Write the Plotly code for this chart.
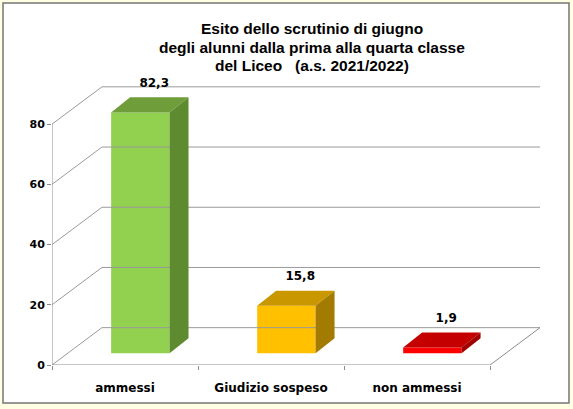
import plotly.graph_objects as go

# Dati del grafico
categorie = ["ammessi", "Giudizio sospeso", "non ammessi"]
percentuali = [82.3, 15.8, 1.9]
etichette = ["82,3", "15,8", "1,9"]
tick_y = [0, 20, 40, 60, 80]
titolo = ["Esito dello scrutinio di giugno",
          "degli alunni dalla prima alla quarta classe",
          "del Liceo   (a.s. 2021/2022)"]

colori_fronte = ["#92D050", "#FFC000", "#FF0000"]
colori_sopra = ["#6F9D3A", "#C99700", "#C40000"]
colori_lato = ["#5E8A30", "#A37B00", "#A00000"]

# Geometria pseudo-3D (in unita' degli assi)
Y_MAX = 80
DX, DY = 0.342, 12.4        # profondita' del pavimento
BDX, BDY = 0.13, 5.0        # profondita' delle barre
BASE = 3.9                  # barre a meta' profondita'
SHIFT = 0.105
LARG = 0.4
GRIGIO = "#9A9A9A"

fig = go.Figure()

# Griglia: pareti laterale e di fondo
for v in tick_y:
    fig.add_trace(go.Scatter(
        x=[-0.5, -0.5 + DX, 2.5 + DX], y=[v, v + DY, v + DY],
        mode="lines", line=dict(color=GRIGIO, width=1),
        hoverinfo="skip", showlegend=False))

# Pavimento e asse verticale frontale
fig.add_trace(go.Scatter(
    x=[-0.5, -0.5, 2.5, 2.5 + DX], y=[Y_MAX, 0, 0, DY],
    mode="lines", line=dict(color="#8C8C8C", width=1),
    hoverinfo="skip", showlegend=False))

# Barre: faccia frontale
xs = [i + SHIFT for i in range(len(categorie))]
altezze = [min(v, Y_MAX) for v in percentuali]
fig.add_trace(go.Bar(
    x=xs, y=altezze, base=BASE, width=LARG,
    marker=dict(color=colori_fronte, line=dict(width=0)),
    hoverinfo="skip", showlegend=False))

# Barre: faccia superiore e laterale
for x, h, cs, cl in zip(xs, altezze, colori_sopra, colori_lato):
    x0, x1 = x - LARG / 2, x + LARG / 2
    y0, y1 = BASE, BASE + h
    fig.add_trace(go.Scatter(
        x=[x0, x1, x1 + BDX, x0 + BDX, x0],
        y=[y1, y1, y1 + BDY, y1 + BDY, y1],
        fill="toself", fillcolor=cs, mode="lines", line=dict(width=0, color=cs),
        hoverinfo="skip", showlegend=False))
    fig.add_trace(go.Scatter(
        x=[x1, x1 + BDX, x1 + BDX, x1, x1],
        y=[y0, y0 + BDY, y1 + BDY, y1, y0],
        fill="toself", fillcolor=cl, mode="lines", line=dict(width=0, color=cl),
        hoverinfo="skip", showlegend=False))

# Etichette dei valori
fig.add_trace(go.Scatter(
    x=[i + 0.2 for i in range(len(categorie))],
    y=[h + 13.5 for h in altezze],
    text=etichette, mode="text", cliponaxis=False,
    textfont=dict(family="DejaVu Sans", size=12, color="black", weight="bold"),
    hoverinfo="skip", showlegend=False))

# Titolo su tre righe
for riga, y in zip(titolo, [1.175, 1.110, 1.047]):
    fig.add_annotation(
        text=riga, xref="paper", yref="paper", x=0.5328, y=y,
        xanchor="center", yanchor="middle", showarrow=False,
        font=dict(family="Liberation Sans", size=15.5, color="black", weight="bold"))

fig.update_layout(
    width=573, height=409,
    margin=dict(l=52, r=33, t=79, b=44, autoexpand=False),
    paper_bgcolor="#FFFFE3",
    plot_bgcolor="rgba(0,0,0,0)",
    shapes=[dict(
        type="rect", xref="paper", yref="paper", layer="below",
        x0=-0.1004, x1=1.0594, y0=-0.1329, y1=1.2657,
        fillcolor="white", line=dict(color="#767676", width=1.5))],
)

fig.update_xaxes(
    range=[-0.5, 2.5 + DX], showgrid=False, zeroline=False, showline=False,
    automargin=False, ticklabelstandoff=14,
    tickmode="array", tickvals=list(range(len(categorie))), ticktext=categorie,
    ticks="", tickfont=dict(family="DejaVu Sans", size=12, color="black", weight="bold"),
    minor=dict(tickmode="array", tickvals=[-0.5, 0.5, 1.5, 2.5],
               ticks="outside", ticklen=4, tickcolor="#8C8C8C", showgrid=False),
)
fig.update_yaxes(
    range=[0, 95], showgrid=False, zeroline=False, showline=False, automargin=False,
    tickmode="array", tickvals=tick_y, ticks="outside", ticklen=4, tickcolor="#8C8C8C",
    tickfont=dict(family="DejaVu Sans", size=11, color="black", weight="bold"),
)

# niente margine del body, cosi' la figura occupa esattamente la finestra
fig.write_html("out.html", config={"displayModeBar": False},
               post_script="document.body.style.margin='0';")
